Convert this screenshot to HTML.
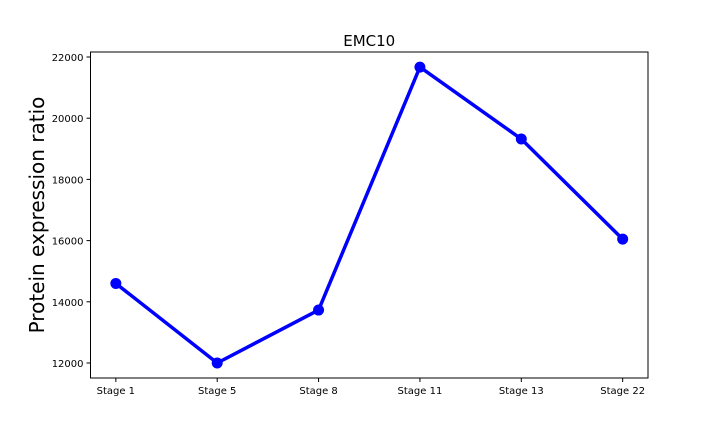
<!DOCTYPE html>
<html><head><meta charset="utf-8"><style>body{margin:0;background:#fff}svg{display:block}text{font-family:"DejaVu Sans","Liberation Sans",sans-serif;fill:#000}</style></head>
<body>
<svg id="c" width="720" height="432"></svg>
<script>
const categories=["Stage 1","Stage 5","Stage 8","Stage 11","Stage 13","Stage 22"];
const values=[14600,12000,13730,21670,19320,16050];
const yTicks=[12000,14000,16000,18000,20000,22000];
const L=90.5,R=648,T=52,B=378;
const x=i=>L+(i+0.25)*(R-L)/5.5;
const y=v=>363-(v-12000)*(363-57)/10000;
const svg=document.getElementById('c');
const NS='http://www.w3.org/2000/svg';
function mk(t,a,p){const e=document.createElementNS(NS,t);for(const k in a)e.setAttribute(k,a[k]);(p||svg).appendChild(e);return e;}
let fr=mk('rect',{x:L,y:T,width:R-L,height:B-T,fill:'none',stroke:'#000','stroke-width':1});


yTicks.forEach(v=>{
 let l=mk('line',{x1:L-4,x2:L,y1:y(v),y2:y(v),stroke:'#000'});
 
 
 let t=mk('text',{x:L-7,y:y(v)+4,'text-anchor':'end','font-size':10});
 t.textContent=v;
 
 
});
categories.forEach((c,i)=>{
 let l=mk('line',{x1:x(i),x2:x(i),y1:B,y2:B+4,stroke:'#000'});
 
 
 let t=mk('text',{x:x(i),y:B+16,'text-anchor':'middle','font-size':10});
 t.textContent=c;
 
 
});
let pl=mk('polyline',{points:values.map((v,i)=>x(i)+','+y(v)).join(' '),fill:'none',stroke:'#0000ff','stroke-width':3.5,'stroke-linejoin':'round'});


values.forEach((v,i)=>{
 let c=mk('circle',{cx:x(i),cy:y(v),r:5.5,fill:'#0000ff'});
 
 
});
let ti=mk('text',{x:(L+R)/2,y:46,'text-anchor':'middle','font-size':15});
ti.textContent='EMC10';


let yl=mk('text',{x:0,y:0,'text-anchor':'middle','font-size':20,transform:'translate(44,215) rotate(-90)'});
yl.textContent='Protein expression ratio';


</script>
</body></html>
